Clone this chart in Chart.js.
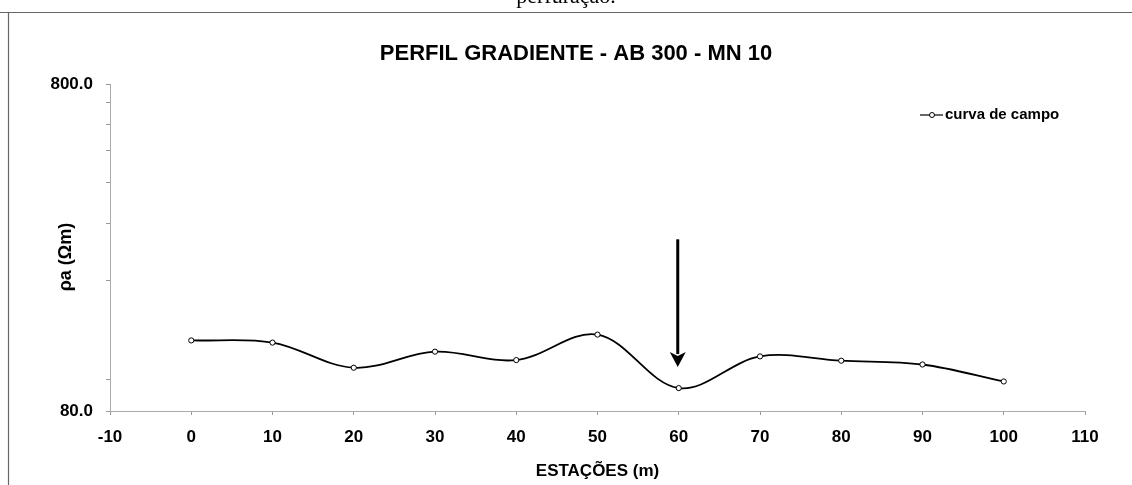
<!DOCTYPE html>
<html>
<head>
<meta charset="utf-8">
<title>Perfil gradiente</title>
<script src="https://cdn.jsdelivr.net/npm/chart.js@4.4.1/dist/chart.umd.min.js"></script>
<style>
    html, body { margin: 0; padding: 0; background: #fff; }
    #wrap { width: 1132px; height: 485px; position: relative; }
</style>
</head>
<body>
<div id="wrap"><canvas id="chart" width="1132" height="485"></canvas></div>
<script>
// station positions (m) and apparent resistivity (ohm.m)
const stations = [0, 10, 20, 30, 40, 50, 60, 70, 80, 90, 100];
const resistivity = [131.5, 129.5, 108.5, 121.5, 114.5, 137, 94, 117.5, 114, 111, 98.5];

// axis ticks
const yTicks = [80, 100, 200, 300, 400, 500, 600, 700, 800];
const yLabeled = [80, 800];
const xMin = -10, xMax = 110, xStep = 10;

// arrow marking the suggested drilling point
const arrowStation = 60;
const arrowTop = 268;
const arrowTip = 109;

const chartTitle = 'PERFIL GRADIENTE - AB 300 - MN 10';
const seriesLabel = 'curva de campo';
const xTitle = 'ESTAÇÕES (m)';
const yTitle = 'ρa (Ωm)';
const pageText = 'perfuração.';

const FONT = "'Liberation Sans', Arial, sans-serif";

const decorPlugin = {
    id: 'decor',
    beforeDraw(chart) {
        const ctx = chart.ctx;
        ctx.save();
        ctx.fillStyle = '#fff';
        ctx.fillRect(0, 0, chart.width, chart.height);
        // frame of the scanned figure
        ctx.strokeStyle = '#666';
        ctx.lineWidth = 1.2;
        ctx.beginPath();
        ctx.moveTo(0, 12.5);
        ctx.lineTo(chart.width, 12.5);
        ctx.moveTo(8.5, 12);
        ctx.lineTo(8.5, chart.height);
        ctx.stroke();
        // leftover text of the page above the figure (cut off by the crop)
        ctx.fillStyle = '#000';
        ctx.font = "22px 'Liberation Serif', 'Times New Roman', serif";
        ctx.textAlign = 'center';
        ctx.textBaseline = 'alphabetic';
        ctx.fillText(pageText, 566, 3);
        ctx.restore();
    },
    afterDraw(chart) {
        const ctx = chart.ctx;
        const xs = chart.scales.x;
        const ys = chart.scales.y;
        ctx.save();
        ctx.fillStyle = '#000';

        // title
        ctx.font = 'bold 22px ' + FONT;
        ctx.textAlign = 'center';
        ctx.textBaseline = 'middle';
        ctx.fillText(chartTitle, 576, 54);

        // y axis title
        ctx.save();
        ctx.translate(66, 257);
        ctx.rotate(-Math.PI / 2);
        ctx.font = 'bold 18px ' + FONT;
        ctx.fillText(yTitle, 0, 0);
        ctx.restore();

        // legend
        const ly = 115;
        ctx.strokeStyle = '#000';
        ctx.lineWidth = 1.2;
        ctx.beginPath();
        ctx.moveTo(920, ly);
        ctx.lineTo(943, ly);
        ctx.stroke();
        ctx.beginPath();
        ctx.arc(932, ly, 2.5, 0, Math.PI * 2);
        ctx.fillStyle = '#fff';
        ctx.fill();
        ctx.lineWidth = 1;
        ctx.stroke();
        ctx.fillStyle = '#000';
        ctx.font = 'bold 15px ' + FONT;
        ctx.textAlign = 'left';
        ctx.fillText(seriesLabel, 945, ly);

        // arrow
        const ax = xs.getPixelForValue(arrowStation) - 1;
        const yTopPx = ys.getPixelForValue(arrowTop);
        const yTipPx = ys.getPixelForValue(arrowTip);
        const head = 15;
        ctx.lineWidth = 3;
        ctx.beginPath();
        ctx.moveTo(ax, yTopPx);
        ctx.lineTo(ax, yTipPx - head + 2);
        ctx.stroke();
        ctx.beginPath();
        ctx.moveTo(ax - 8, yTipPx - head);
        ctx.lineTo(ax, yTipPx - head + 4);
        ctx.lineTo(ax + 8, yTipPx - head);
        ctx.lineTo(ax, yTipPx);
        ctx.closePath();
        ctx.fill();
        ctx.restore();
    }
};

new Chart(document.getElementById('chart').getContext('2d'), {
    type: 'line',
    data: {
        datasets: [{
            label: seriesLabel,
            data: stations.map((s, i) => ({ x: s, y: resistivity[i] })),
            borderColor: '#000',
            borderWidth: 1.8,
            tension: 0.35,
            pointRadius: 2.6,
            pointBackgroundColor: '#fff',
            pointBorderColor: '#000',
            pointBorderWidth: 1
        }]
    },
    options: {
        responsive: false,
        animation: false,
        layout: { padding: { top: 84, right: 47, bottom: 0, left: 0 } },
        plugins: {
            legend: { display: false },
            title: { display: false },
            tooltip: { enabled: false }
        },
        scales: {
            x: {
                type: 'linear',
                min: xMin,
                max: xMax,
                afterFit: (scale) => { scale.height = 74; },
                ticks: {
                    stepSize: xStep,
                    color: '#000',
                    padding: 12,
                    maxRotation: 0,
                    font: { family: FONT, size: 17, weight: 'bold' }
                },
                grid: { drawOnChartArea: false, drawTicks: true, tickLength: 4, color: '#999' },
                border: { display: true, color: '#aaa', dash: [2, 3] },
                title: {
                    display: true,
                    text: xTitle,
                    color: '#000',
                    padding: { top: 0, bottom: 3 },
                    font: { family: FONT, size: 17, weight: 'bold' }
                }
            },
            y: {
                type: 'logarithmic',
                min: 80,
                max: 800,
                afterFit: (scale) => { scale.width = 110; },
                afterBuildTicks: (scale) => {
                    scale.ticks = yTicks.map(v => ({ value: v }));
                },
                ticks: {
                    color: '#000',
                    padding: 13,
                    autoSkip: false,
                    font: { family: FONT, size: 17, weight: 'bold' },
                    callback: (value) => yLabeled.includes(value) ? value.toFixed(1) : ''
                },
                grid: { drawOnChartArea: false, drawTicks: true, tickLength: 4, color: '#999' },
                border: { display: true, color: '#aaa', dash: [2, 3] },
                title: { display: false }
            }
        }
    },
    plugins: [decorPlugin]
});
</script>
</body>
</html>
